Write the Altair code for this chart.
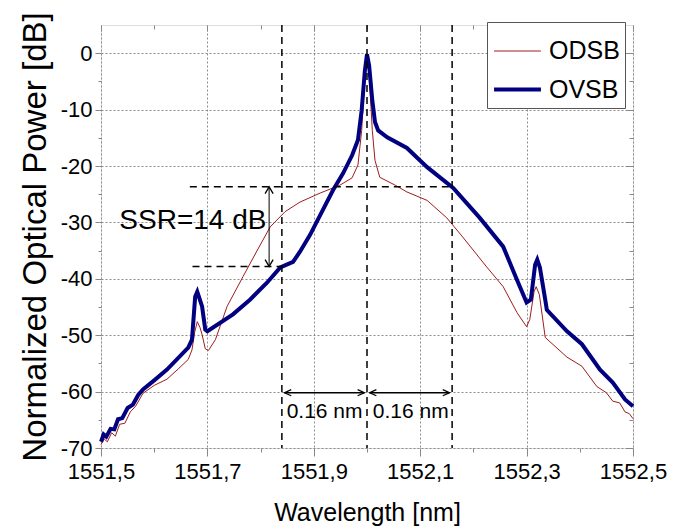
import altair as alt
import pandas as pd

# ---------------- data ----------------
odsb_wl = [1551.500, 1551.506, 1551.512, 1551.520, 1551.527, 1551.535, 1551.545, 1551.555,
           1551.565, 1551.579, 1551.600, 1551.624, 1551.645, 1551.664, 1551.671, 1551.676,
           1551.681, 1551.686, 1551.690, 1551.696, 1551.702, 1551.715, 1551.737, 1551.767,
           1551.794, 1551.818, 1551.846, 1551.874, 1551.912, 1551.949, 1551.972, 1551.983,
           1551.990, 1551.996, 1552.000, 1552.004, 1552.010, 1552.015, 1552.024, 1552.053,
           1552.075, 1552.113, 1552.150, 1552.180, 1552.225, 1552.256, 1552.282, 1552.300,
           1552.306, 1552.314, 1552.318, 1552.324, 1552.335, 1552.376, 1552.404, 1552.432,
           1552.450, 1552.462, 1552.475, 1552.485, 1552.493, 1552.500]
odsb_db = [-69.4, -68.4, -68.9, -67.3, -67.9, -65.8, -65.6, -63.6,
           -62.6, -60.3, -58.9, -57.8, -56.0, -54.3, -52.6, -49.5,
           -47.6, -48.6, -49.9, -52.4, -52.7, -50.8, -44.9, -39.6,
           -34.9, -30.8, -28.1, -26.4, -24.8, -23.4, -22.1, -19.8,
           -13.7, -3.9, -0.6, -3.9, -13.7, -19.0, -22.0, -23.4,
           -24.6, -26.1, -29.2, -32.6, -37.9, -41.4, -46.0, -48.5,
           -47.2, -42.3, -41.4, -42.8, -50.4, -53.9, -55.5, -59.1,
           -60.2, -61.7, -62.0, -63.6, -63.9, -64.8]

ovsb_wl = [1551.500, 1551.505, 1551.510, 1551.518, 1551.525, 1551.532, 1551.540, 1551.550,
           1551.560, 1551.570, 1551.579, 1551.600, 1551.624, 1551.664, 1551.671, 1551.677,
           1551.681, 1551.690, 1551.696, 1551.700, 1551.748, 1551.780, 1551.812, 1551.837,
           1551.861, 1551.874, 1551.893, 1551.912, 1551.936, 1551.955, 1551.972, 1551.983,
           1551.990, 1551.996, 1552.000, 1552.004, 1552.010, 1552.015, 1552.021, 1552.038,
           1552.075, 1552.113, 1552.162, 1552.212, 1552.256, 1552.282, 1552.300, 1552.308,
           1552.316, 1552.320, 1552.325, 1552.335, 1552.338, 1552.376, 1552.404, 1552.438,
           1552.462, 1552.485, 1552.500]
ovsb_db = [-68.9, -67.6, -68.0, -66.6, -66.7, -64.9, -64.7, -62.9,
           -62.3, -60.6, -59.6, -58.0, -56.1, -52.2, -50.8, -43.2,
           -42.3, -44.9, -49.0, -49.3, -46.3, -43.7, -40.7, -38.0,
           -37.0, -35.2, -32.2, -28.7, -24.3, -21.3, -18.1, -15.4,
           -10.1, -3.1, -0.2, -2.2, -8.4, -12.2, -13.7, -14.9,
           -16.8, -20.2, -23.9, -29.2, -34.3, -40.2, -44.2, -43.7,
           -37.5, -36.6, -38.0, -43.7, -45.5, -49.3, -51.6, -56.1,
           -58.4, -61.4, -62.6]

series_names = ["ODSB", "OVSB"]
series_colors = ["#a01c1c", "#000080"]
series_widths = [1.0, 4.0]

x_ticks = [1551.5, 1551.6, 1551.7, 1551.8, 1551.9, 1552.0, 1552.1, 1552.2, 1552.3, 1552.4, 1552.5]
y_ticks = [-70, -65, -60, -55, -50, -45, -40, -35, -30, -25, -20, -15, -10, -5, 0]

# annotation geometry (data units)
vline_wl = [1551.84, 1552.0, 1552.16]
hline_db = [-23.7, -37.8]
hline_from = [1551.667, 1551.672]
hline_to = [1552.16, 1551.84]
ssr_wl = 1551.816
ssr_top, ssr_bottom = -23.7, -37.8
span_db = -60.2
span_from = [1551.845, 1552.005]
span_to = [1551.995, 1552.155]
span_text_wl = [1551.849, 1552.011]
span_text_db = -63.6
ssr_label = "SSR=14 dB"
span_label = "0.16 nm"

FONT = "Liberation Sans"

# ---------------- tables ----------------
lines_df = pd.concat([
    pd.DataFrame({"wl": odsb_wl, "db": odsb_db, "series": "ODSB"}),
    pd.DataFrame({"wl": ovsb_wl, "db": ovsb_db, "series": "OVSB"}),
], ignore_index=True)

vl_df = pd.DataFrame({"wl": vline_wl})
hl_df = pd.DataFrame({"wl": hline_from, "wl2": hline_to, "db": hline_db})
ssr_df = pd.DataFrame({"wl": [ssr_wl], "db": [ssr_top], "db2": [ssr_bottom]})
span_df = pd.DataFrame({"wl": span_from, "wl2": span_to, "db": [span_db, span_db]})
head_up = pd.DataFrame({"wl": [ssr_wl], "db": [ssr_top]})
head_down = pd.DataFrame({"wl": [ssr_wl], "db": [ssr_bottom]})
head_left = pd.DataFrame({"wl": span_from, "db": [span_db, span_db]})
head_right = pd.DataFrame({"wl": span_to, "db": [span_db, span_db]})
ssr_text_df = pd.DataFrame({"wl": [1551.811], "db": [-29.7], "t": [ssr_label]})
span_text_df = pd.DataFrame({"wl": span_text_wl, "db": [span_text_db] * 2, "t": [span_label] * 2})

xscale = alt.Scale(domain=[1551.5, 1552.5], nice=False, zero=False)
yscale = alt.Scale(domain=[-70, 5], nice=False, zero=False)

x_major = "round(datum.value*10) % 2 == 1"
y_major = "datum.value % 10 == 0"

x_axis = alt.Axis(
    values=x_ticks,
    labelExpr=f"{x_major} ? replace(format(datum.value, '.1f'), '.', ',') : ''",
    tickSize={"condition": {"test": x_major, "value": 8}, "value": 4},
    gridOpacity={"condition": {"test": x_major, "value": 1}, "value": 0},
    gridDash=[2, 2], gridColor="#8c8c8c", gridWidth=1,
    grid=True, domain=False, labelPadding=5, titlePadding=18,
    labelFlush=False, labelOverlap=False,
    labelFontSize=22, titleFontSize=25, titleFontWeight="normal", titleFont=FONT,
)
y_axis = alt.Axis(
    values=y_ticks,
    labelExpr=f"{y_major} ? '' + datum.value : ''",
    tickSize={"condition": {"test": y_major, "value": 6}, "value": 3},
    gridOpacity={"condition": {"test": y_major, "value": 1}, "value": 0},
    gridDash=[2, 2], gridColor="#8c8c8c", gridWidth=1,
    grid=True, domain=False, labelPadding=3, titlePadding=8,
    labelFlush=False, labelOverlap=False,
    labelFontSize=22, titleFontSize=33, titleFontWeight="normal", titleFont=FONT,
)
x_mirror = alt.Axis(
    values=x_ticks, orient="bottom", offset=-423, labels=False, grid=False, domain=False,
    tickSize={"condition": {"test": x_major, "value": 6}, "value": 4}, title=None,
)
y_mirror = alt.Axis(
    values=y_ticks, orient="left", offset=-532, labels=False, grid=False, domain=False,
    tickSize={"condition": {"test": y_major, "value": 7}, "value": 4}, title=None,
)

legend = alt.Legend(
    orient="none", legendX=386, legendY=-3, title=None,
    fillColor="white", strokeColor="#555555", padding=5,
    labelFontSize=25, labelFont=FONT, labelColor="black", labelOffset=6,
    symbolType="stroke", symbolSize=2200, rowPadding=0, labelLimit=300,
)

lines = alt.Chart(lines_df).mark_line().encode(
    x=alt.X("wl:Q", scale=xscale, axis=x_axis, title="Wavelength [nm]"),
    y=alt.Y("db:Q", scale=yscale, axis=y_axis, title="Normalized Optical Power [dB]"),
    color=alt.Color("series:N", scale=alt.Scale(domain=series_names, range=series_colors), legend=legend),
    strokeWidth=alt.StrokeWidth("series:N", scale=alt.Scale(domain=series_names, range=series_widths), legend=legend),
    detail="series:N",
)

vrules = alt.Chart(vl_df).mark_rule(color="black", strokeWidth=1.5, strokeDash=[7, 5]).encode(
    x=alt.X("wl:Q", scale=xscale, axis=x_mirror),
)
hrules = alt.Chart(hl_df).mark_rule(color="black", strokeWidth=1.5, strokeDash=[7, 5]).encode(
    x=alt.X("wl:Q", scale=xscale, axis=None), x2="wl2:Q",
    y=alt.Y("db:Q", scale=yscale, axis=y_mirror),
)
ssr_rule = alt.Chart(ssr_df).mark_rule(color="black", strokeWidth=1).encode(
    x=alt.X("wl:Q", scale=xscale, axis=None),
    y=alt.Y("db:Q", scale=yscale, axis=None), y2="db2:Q",
)
span_rules = alt.Chart(span_df).mark_rule(color="black", strokeWidth=1.3).encode(
    x=alt.X("wl:Q", scale=xscale, axis=None), x2="wl2:Q",
    y=alt.Y("db:Q", scale=yscale, axis=None),
)


def heads(df, path):
    return alt.Chart(df).mark_point(shape=path, filled=False, color="black", size=180,
                                    strokeWidth=1.3, opacity=1).encode(
        x=alt.X("wl:Q", scale=xscale, axis=None),
        y=alt.Y("db:Q", scale=yscale, axis=None),
    )


h_up = heads(head_up, "M-0.6,1L0,0L0.6,1")
h_down = heads(head_down, "M-0.6,-1L0,0L0.6,-1")
h_left = heads(head_left, "M1,-0.45L0,0L1,0.45")
h_right = heads(head_right, "M-1,-0.45L0,0L-1,0.45")

ssr_text = alt.Chart(ssr_text_df).mark_text(align="right", baseline="middle", fontSize=28,
                                            font=FONT, color="black").encode(
    x=alt.X("wl:Q", scale=xscale, axis=None),
    y=alt.Y("db:Q", scale=yscale, axis=None), text="t:N",
)
span_text = alt.Chart(span_text_df).mark_text(align="left", baseline="middle", fontSize=21,
                                              font=FONT, color="black").encode(
    x=alt.X("wl:Q", scale=xscale, axis=None),
    y=alt.Y("db:Q", scale=yscale, axis=None), text="t:N",
)

chart = alt.layer(
    lines, vrules, hrules, ssr_rule, span_rules, h_up, h_down, h_left, h_right, ssr_text, span_text
).resolve_axis(x="independent", y="independent").properties(
    width=532, height=423,
    autosize=alt.AutoSizeParams(type="none"),
    padding={"left": 93, "top": 17, "right": 40, "bottom": 80},
).configure_view(
    stroke="black", strokeWidth=1.5,
).configure_axis(
    labelFont=FONT, titleFont=FONT, labelColor="black", titleColor="black",
    tickColor="black", tickWidth=1.3,
    titleFontWeight="normal",
).configure(background="white")

chart.save("out.html", embed_options={"renderer": "svg", "actions": False})
